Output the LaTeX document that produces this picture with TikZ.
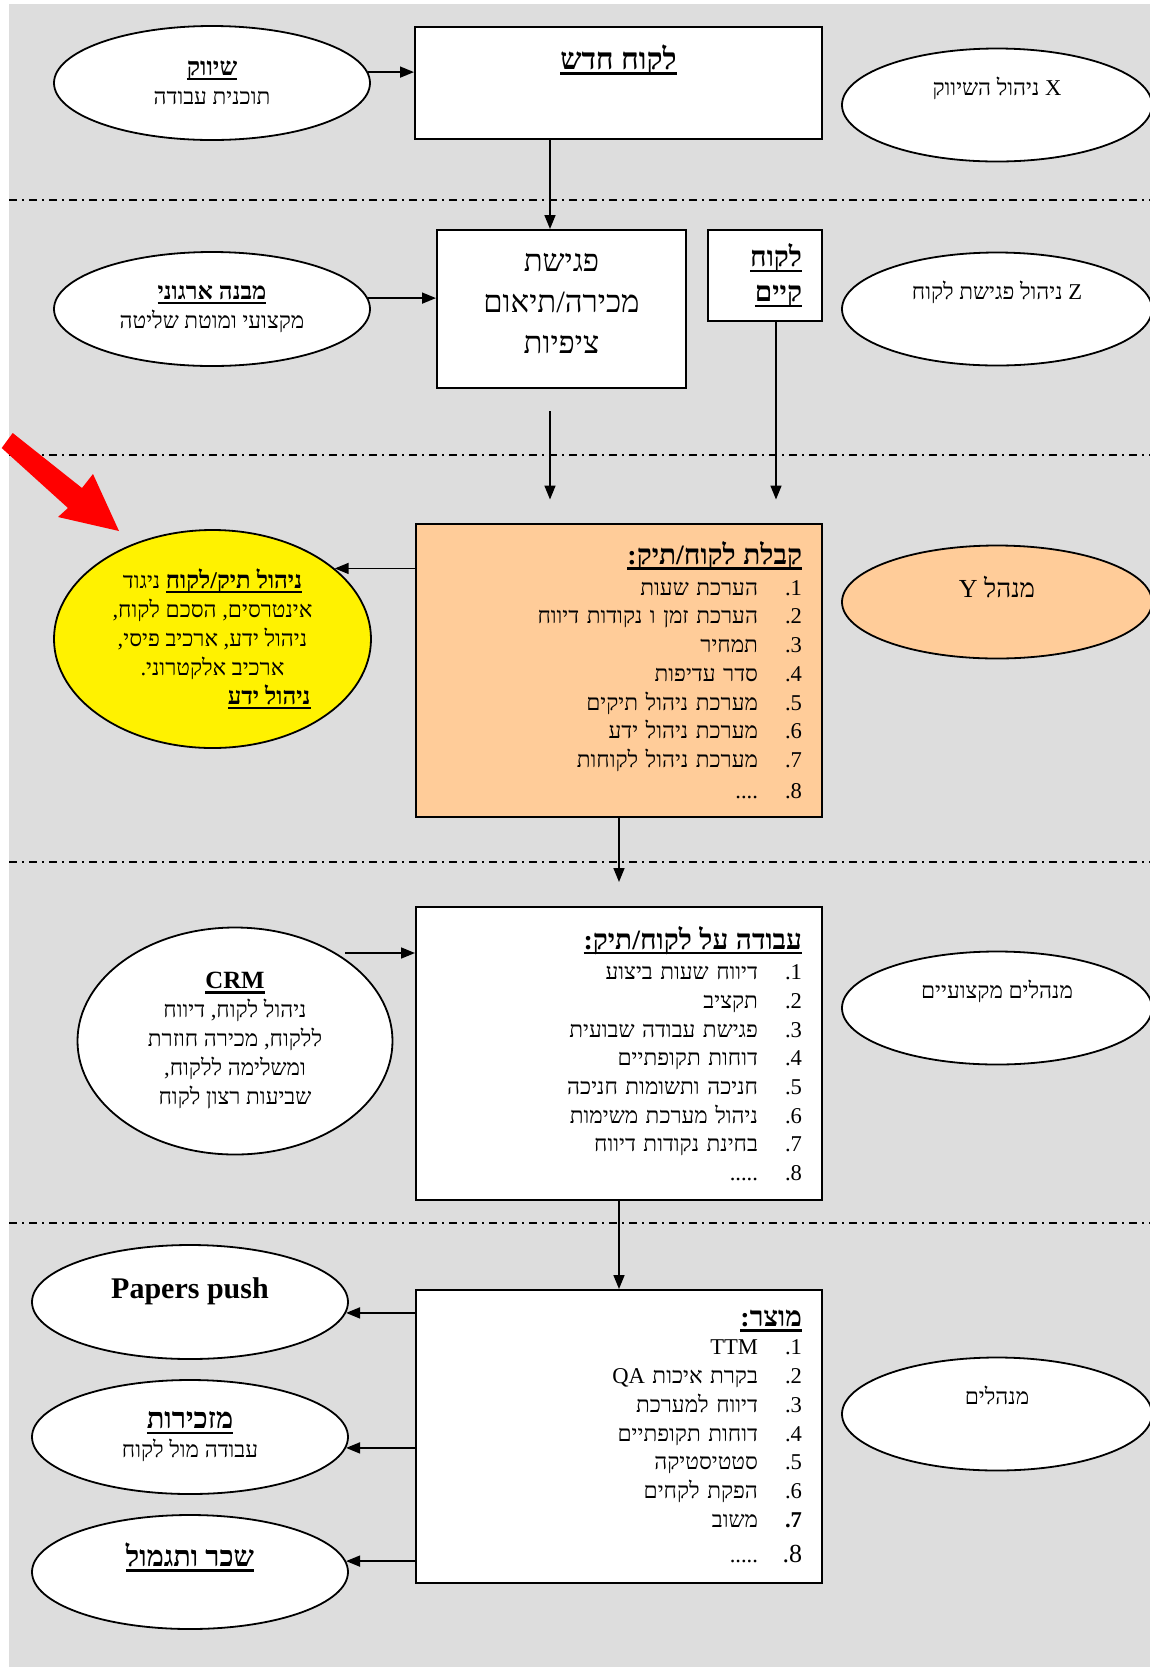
\documentclass[tikz,border=0pt]{standalone}
\usepackage{fontspec}
\setmainfont{Liberation Serif}
\newfontfamily\hebfont[Script=Hebrew]{Liberation Serif}
\usetikzlibrary{arrows.meta,shapes.geometric}
\TeXXeTstate=1
\definecolor{bggray}{HTML}{DDDDDD}
\definecolor{peach}{HTML}{FFCC99}
\newcommand\hul[1]{\leavevmode{\setbox0=\hbox{#1}\hbox{\rlap{\rule[-0.19em]{\wd0}{0.09em}}\box0}}}
\newcommand\hhead[2]{{\fontsize{#1}{#1}\selectfont\bfseries\hul{#2}}}
\newcommand\itm[2]{\leavevmode#2\hspace{14pt}\makebox[8pt][r]{\rmfamily .#1}}

\begin{document}
\begin{tikzpicture}[x=0.5pt,y=-0.5pt,
  stage/.style={draw,line width=1pt,fill=white,rectangle,inner sep=0pt},
  listbox/.style={stage,minimum height=146.5pt,text width=183pt,inner xsep=10pt,
    align=right,font=\hebfont\fontsize{11.3}{14.35}\selectfont},
  oval/.style={draw,line width=0.9pt,fill=white,ellipse,inner sep=0pt,
    minimum width=158pt,minimum height=57pt,align=center,font=\hebfont\fontsize{11.3}{14.5}\selectfont},
  role/.style={oval,minimum width=155pt,minimum height=56.5pt,text height=7pt,text depth=17pt},
  arr/.style={-{Triangle[length=7pt,width=5.5pt]},line width=0.8pt},
  sepline/.style={line width=1pt,dash pattern=on 4pt off 2.5pt on 1pt off 2.5pt}]
  \useasboundingbox (0,0) rectangle (1150,1667);
  \fill[bggray] (9,4) rectangle (1150,1667);
  \foreach \y in {200,455,862,1223}
    \draw[sepline] (9,\y) -- (1150,\y);

  % middle column
  \node[stage,minimum width=203.5pt,text height=21pt,text depth=35pt,
    font=\hebfont\fontsize{15}{17}\selectfont\bfseries] (newcl) at (618.5,83)
    {\hul{\beginR לקוח חדש\endR}};
  \node[stage,minimum width=124.5pt,text height=61.6pt,text depth=17.4pt,
    font=\hebfont\fontsize{15.5}{20.5}\selectfont] (meet) at (561.5,309)
    {\begin{tabular}[b]{@{}c@{}}\beginR פגישת\endR\\\beginR מכירה/תיאום\endR\\\beginR ציפיות\endR\end{tabular}};
  \node[stage,minimum width=57pt,minimum height=45.5pt,text width=37pt,inner xsep=10pt,
    align=right,font=\hebfont\fontsize{14}{17.5}\selectfont\bfseries] (exist) at (765,275.5)
    {\hul{\beginR לקוח\endR}\\\hul{\beginR קיים\endR}};
  \node[listbox,fill=peach] (intake) at (619,670) {\hhead{14}{\beginR קבלת לקוח/תיק:\endR}\\[1pt]
    \itm{1}{\beginR הערכת שעות\endR}\\
    \itm{2}{\beginR הערכת זמן ו נקודות דיווח\endR}\\
    \itm{3}{\beginR תמחיר\endR}\\
    \itm{4}{\beginR סדר עדיפות\endR}\\
    \itm{5}{\beginR מערכת ניהול תיקים\endR}\\
    \itm{6}{\beginR מערכת ניהול ידע\endR}\\
    \itm{7}{\beginR מערכת ניהול לקוחות\endR}\\[1pt]
    \itm{8}{....}};
  \node[listbox] (work) at (619,1053.5) {\hhead{14}{\beginR עבודה על לקוח/תיק:\endR}\\[1pt]
    \itm{1}{\beginR דיווח שעות ביצוע\endR}\\
    \itm{2}{\beginR תקציב\endR}\\
    \itm{3}{\beginR פגישת עבודה שבועית\endR}\\
    \itm{4}{\beginR דוחות תקופתיים\endR}\\
    \itm{5}{\beginR חניכה ותשומות חניכה\endR}\\
    \itm{6}{\beginR ניהול מערכת משימות\endR}\\
    \itm{7}{\beginR בחינת נקודות דיווח\endR}\\
    \itm{8}{.....}};
  \node[listbox] (product) at (619,1436.5) {\hhead{14}{\beginR מוצר:\endR}\\
    \itm{1}{TTM}\\
    \itm{2}{\beginR בקרת איכות QA\endR}\\
    \itm{3}{\beginR דיווח למערכת\endR}\\
    \itm{4}{\beginR דוחות תקופתיים\endR}\\
    \itm{5}{\beginR סטטיסטיקה\endR}\\
    \itm{6}{\beginR הפקת לקחים\endR}\\
    \beginR משוב\endR\hspace{14pt}\makebox[8pt][r]{\rmfamily\bfseries .7}\\[3.5pt]
    .....\hspace{14pt}\makebox[8pt][r]{\rmfamily\fontsize{13}{13}\selectfont .8}};

  % left column
  \node[oval] (mkt) at (212,83) {\hhead{12.5}{\beginR שיווק\endR}\\\beginR תוכנית עבודה\endR};
  \node[oval] (orgst) at (212,309) {\hhead{12}{\beginR מבנה ארגוני\endR}\\\beginR מקצועי ומוטת שליטה\endR};
  \node[oval,fill=yellow,minimum width=158.5pt,minimum height=109pt] (fileell) at (212.5,639)
    {\beginR\hhead{12}{\beginR ניהול תיק/לקוח\endR} ניגוד\endR\\
     \beginR אינטרסים, הסכם לקוח,\endR\\
     \beginR ניהול ידע, ארכיב פיסי,\endR\\
     \beginR ארכיב אלקטרוני.\endR\\
     \makebox[98pt][r]{\hhead{12}{\beginR ניהול ידע\endR}}};
  \node[oval,minimum width=157.5pt,minimum height=113.5pt] (crm) at (235,1041)
    {\hhead{12.4}{CRM}\\\beginR ניהול לקוח, דיווח\endR\\\beginR ללקוח, מכירה חוזרת\endR\\
     \beginR ומשלימה ללקוח,\endR\\\beginR שביעות רצון לקוח\endR};
  \node[oval,text height=11pt,text depth=15pt,font=\fontsize{15}{15}\selectfont\bfseries]
    (pp) at (190,1302) {Papers push};
  \node[oval] (secr) at (190,1437) {\hhead{14.5}{\beginR מזכירות\endR}\\\beginR עבודה מול לקוח\endR};
  \node[oval,text height=10pt,text depth=15.6pt] (pay) at (190,1572) {\hhead{14.4}{\beginR שכר ותגמול\endR}};

  % right column
  \node[role] (mgx) at (997,105) {\beginR X ניהול השיווק\endR};
  \node[role] (mgz) at (997,309) {\beginR Z ניהול פגישת לקוח\endR};
  \node[role,fill=peach,text depth=12pt,font=\hebfont\fontsize{13}{14}\selectfont] (mgy) at (997,602)
    {\beginR מנהל Y\endR};
  \node[role] (mgpro) at (997,1008) {\beginR מנהלים מקצועיים\endR};
  \node[role] (mgrs) at (997,1414) {\beginR מנהלים\endR};

  % connectors
  \coordinate (dropA) at ([xshift=-5.75pt]meet.north);
  \coordinate (outM) at ([yshift=-11pt]meet.south);
  \coordinate (inA) at ([yshift=11.5pt]intake.north);
  \coordinate (dropB) at ([xshift=5.5pt]exist.south);
  \coordinate (crmin) at ([yshift=50.25pt]work.west);
  \draw[arr] (mkt.4) -- (mkt.4 -| newcl.west);
  \draw[arr] (dropA |- newcl.south) -- (dropA);
  \draw[arr] (orgst.4) -- (orgst.4 -| meet.west);
  \draw[arr] (dropA |- outM) -- (dropA |- inA);
  \draw[arr] (dropB) -- (dropB |- inA);
  \draw[arr] (intake.west |- fileell.30) -- (fileell.30);
  \draw[arr] (intake.south) -- ([yshift=12pt]work.north);
  \draw[arr] ([xshift=-35pt]crmin) -- (crmin);
  \draw[arr] (work.south) -- (product.north);
  \draw[arr] (product.west |- pp.-4) -- (pp.-4);
  \draw[arr] (product.west |- secr.-4) -- (secr.-4);
  \draw[arr] (product.west |- pay.4) -- (pay.4);

  % pointer
  \fill[red] (12.7,433) -- (82,488) -- (93,474) -- (119,531) -- (58,517) -- (68,508) -- (1.7,448) -- cycle;
\end{tikzpicture}
\end{document}
